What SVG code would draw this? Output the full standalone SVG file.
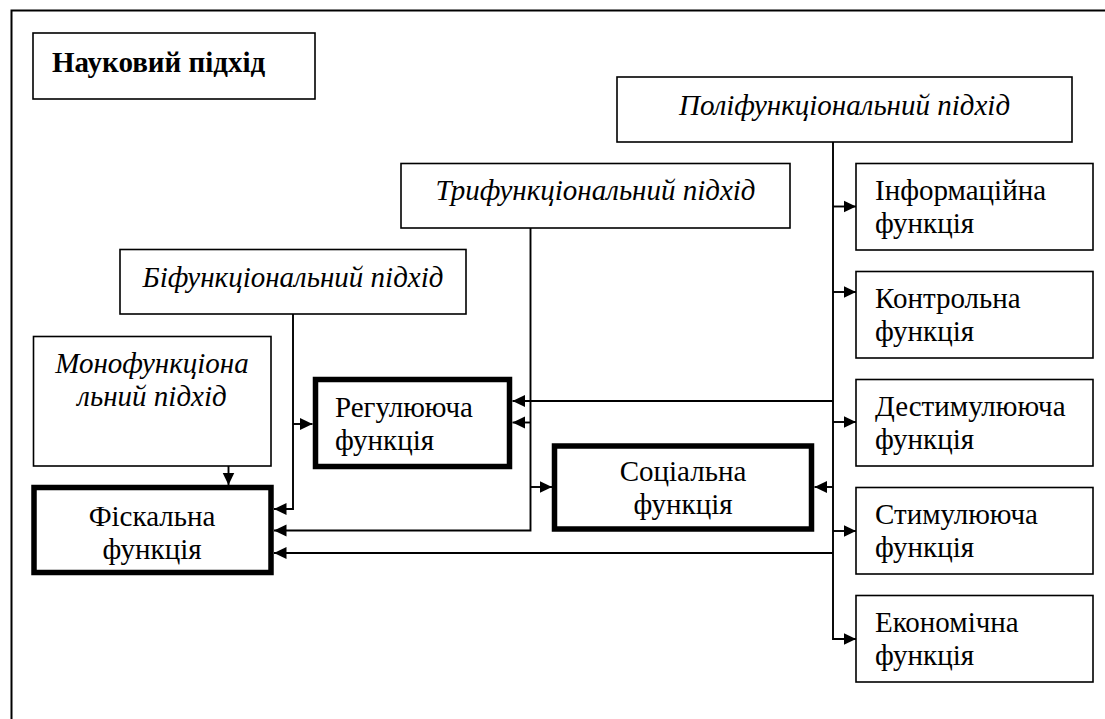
<svg xmlns="http://www.w3.org/2000/svg" width="1105" height="719" viewBox="0 0 1105 719">
<style>
  text { font-family: 'Liberation Serif', 'DejaVu Serif', serif; font-size: 29px; fill: #000; }
  .it { font-style: italic; }
  .b { font-weight: bold; font-size: 29px; }
  .c { text-anchor: middle; }
  .thin { fill: #fff; stroke: #000; stroke-width: 1.6; }
  .thick { fill: #fff; stroke: #000; stroke-width: 5.5; }
  .ln { fill: none; stroke: #000; stroke-width: 1.9; }
</style>
<defs>
  <marker id="ah" markerUnits="userSpaceOnUse" markerWidth="14" markerHeight="14" refX="12.5" refY="6.5" orient="auto">
    <path d="M0,0.5 L12.5,6.5 L0,12.5 z" fill="#000"/>
  </marker>
</defs>
<rect width="1105" height="719" fill="#fff"/>
<path d="M11.5 725 V10.5 H1110" fill="none" stroke="#000" stroke-width="2"/>

<g id="connectors">
  <path class="ln" d="M833 142 V639 H856" marker-end="url(#ah)"/>
  <path class="ln" d="M833 206.5 H856" marker-end="url(#ah)"/>
  <path class="ln" d="M833 292 H856" marker-end="url(#ah)"/>
  <path class="ln" d="M833 422 H856" marker-end="url(#ah)"/>
  <path class="ln" d="M833 531 H856" marker-end="url(#ah)"/>
  <path class="ln" d="M833 401 H512.5" marker-end="url(#ah)"/>
  <path class="ln" d="M833 487 H814.5" marker-end="url(#ah)"/>
  <path class="ln" d="M833 553 H274" marker-end="url(#ah)"/>
  <path class="ln" d="M530.5 228 V530.5 H274" marker-end="url(#ah)"/>
  <path class="ln" d="M530.5 422.5 H512.5" marker-end="url(#ah)"/>
  <path class="ln" d="M530.5 487 H552" marker-end="url(#ah)"/>
  <path class="ln" d="M293 314 V509 H274" marker-end="url(#ah)"/>
  <path class="ln" d="M293 424 H312.5" marker-end="url(#ah)"/>
  <path class="ln" d="M228.5 466 V485" marker-end="url(#ah)"/>
</g>

<g id="naukovyi">
  <rect class="thin" x="33" y="33" width="282" height="66"/>
  <text class="b" x="52" y="72">Науковий підхід</text>
</g>
<g id="polifunktsionalnyi">
  <rect class="thin" x="617" y="77" width="455" height="65"/>
  <text class="it c" x="844.5" y="114.5">Поліфункціональний підхід</text>
</g>
<g id="trifunktsionalnyi">
  <rect class="thin" x="401" y="163.5" width="389" height="64.5"/>
  <text class="it c" x="595.5" y="199.5">Трифункціональний підхід</text>
</g>
<g id="bifunktsionalnyi">
  <rect class="thin" x="120" y="249.5" width="346" height="64.5"/>
  <text class="it c" x="293" y="286.5">Біфункціональний підхід</text>
</g>
<g id="monofunktsionalnyi">
  <rect class="thin" x="33.5" y="336.5" width="237.5" height="129.5"/>
  <text class="it c" x="152" y="372.5">Монофункціона</text>
  <text class="it c" x="152" y="405.5">льний підхід</text>
</g>
<g id="rehuliuiucha">
  <rect class="thick" x="315.5" y="379.5" width="194" height="87"/>
  <text x="335" y="417">Регулююча</text>
  <text x="335" y="450">функція</text>
</g>
<g id="fiskalna">
  <rect class="thick" x="34" y="487.5" width="237" height="85"/>
  <text class="c" x="152" y="526">Фіскальна</text>
  <text class="c" x="152" y="559">функція</text>
</g>
<g id="sotsialna">
  <rect class="thick" x="554.5" y="446" width="257" height="83"/>
  <text class="c" x="683" y="481">Соціальна</text>
  <text class="c" x="683" y="514">функція</text>
</g>
<g id="informatsiina">
  <rect class="thin" x="856" y="163.5" width="237" height="86.5"/>
  <text x="875" y="200">Інформаційна</text>
  <text x="875" y="233">функція</text>
</g>
<g id="kontrolna">
  <rect class="thin" x="856" y="271.5" width="237" height="86.5"/>
  <text x="875" y="308">Контрольна</text>
  <text x="875" y="341">функція</text>
</g>
<g id="destymuliuiucha">
  <rect class="thin" x="856" y="379.5" width="237" height="86.5"/>
  <text x="875" y="416">Дестимулююча</text>
  <text x="875" y="449">функція</text>
</g>
<g id="stymuliuiucha">
  <rect class="thin" x="856" y="487.5" width="237" height="86.5"/>
  <text x="875" y="524">Стимулююча</text>
  <text x="875" y="557">функція</text>
</g>
<g id="ekonomichna">
  <rect class="thin" x="856" y="595.5" width="237" height="86.5"/>
  <text x="875" y="632">Економічна</text>
  <text x="875" y="665">функція</text>
</g>
</svg>
